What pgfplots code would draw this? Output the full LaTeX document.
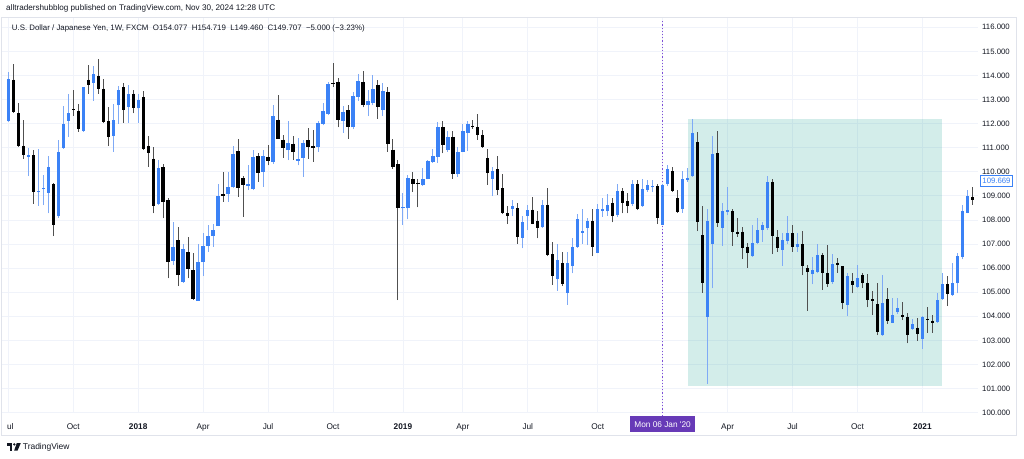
\documentclass[border=0pt]{standalone}
\usepackage{pgfplots}
\pgfplotsset{compat=1.18}
\usepackage{pgfplotstable}
\usepackage{fontspec}
\setmainfont{Liberation Sans}
\definecolor{upcol}{HTML}{3B82F6}
\definecolor{upwick}{HTML}{7FAAF6}
\definecolor{dncol}{HTML}{000000}
\definecolor{dnwick}{HTML}{505050}
\definecolor{gridc}{HTML}{F0F3FA}
\definecolor{framec}{HTML}{E0E3EB}
\definecolor{txt}{HTML}{131722}
\definecolor{purp}{HTML}{673AB7}
\definecolor{purpline}{HTML}{7E4FD8}
\definecolor{tealc}{HTML}{26A69A}

% weekly candles, i = week index from Mon 03 Jul 2017 (i=131: Mon 06 Jan 2020)
\pgfplotstableread{
i O H L C
0 112.10 114.15 112.07 113.87
4 110.62 111.00 109.82 110.68
6 109.15 110.94 108.59 109.20
7 109.28 109.86 108.61 109.33
8 109.13 110.65 108.27 110.20
10 108.16 111.31 108.10 110.83
11 111.00 112.72 110.96 111.98
12 112.11 113.25 111.45 112.46
15 111.70 113.53 111.66 113.50
17 113.69 114.38 112.94 114.04
21 111.48 112.83 110.83 112.14
22 112.76 113.55 112.00 113.41
24 112.70 113.62 112.03 113.25
26 112.63 113.25 112.03 112.97
30 108.66 110.48 108.60 110.14
33 106.30 107.90 106.12 106.89
35 105.43 107.02 105.39 106.80
38 104.65 106.99 104.65 106.25
39 106.25 107.47 105.67 106.91
40 106.91 107.78 106.68 107.34
41 107.34 107.85 106.89 107.58
42 107.74 109.51 107.74 108.99
44 109.07 110.00 108.75 109.35
45 109.35 111.06 109.31 110.72
48 109.40 110.27 109.24 109.51
49 109.28 110.90 109.24 110.62
51 110.00 110.90 109.38 110.65
53 110.41 112.76 110.34 112.30
56 110.90 112.11 110.48 111.20
58 110.45 111.42 110.27 110.52
59 110.58 111.34 109.79 111.21
62 111.03 112.11 110.83 112.03
63 112.00 112.86 111.93 112.53
64 112.39 113.73 112.35 113.66
67 112.11 112.72 111.62 112.49
69 111.84 113.32 111.77 113.15
70 113.11 114.05 112.94 113.76
72 112.76 113.39 112.31 112.93
73 112.87 114.01 112.76 113.43
75 112.56 113.69 112.31 113.36
79 108.48 109.10 107.80 108.55
80 108.48 109.86 108.02 109.76
83 109.45 110.14 109.40 109.71
84 109.72 110.48 109.68 110.44
85 110.41 110.95 110.37 110.65
86 110.62 112.07 110.37 111.86
88 110.92 111.70 110.83 111.45
90 109.90 111.03 109.79 110.83
91 110.83 111.97 110.83 111.70
92 111.62 112.11 110.87 112.00
97 109.72 110.20 108.99 110.04
101 108.46 108.82 108.16 108.57
103 107.27 108.16 106.82 107.92
104 108.17 108.61 107.58 108.43
107 107.69 108.82 107.65 108.64
110 105.53 106.98 105.06 106.33
112 104.98 106.65 104.48 106.22
113 106.08 107.23 105.78 106.89
114 106.89 108.24 106.84 108.03
115 107.47 108.45 107.02 107.54
116 107.67 108.06 106.95 107.95
118 106.64 108.66 106.61 108.45
119 108.37 108.92 108.13 108.44
120 108.36 109.06 108.17 108.64
122 108.20 109.49 108.13 109.21
125 108.66 109.65 108.57 109.49
127 108.57 109.72 108.55 109.30
128 109.24 109.65 109.17 109.44
129 109.35 109.65 109.17 109.42
131 107.81 109.50 107.78 109.47
132 109.49 110.27 109.40 110.11
135 108.45 110.03 108.30 109.72
136 109.65 110.14 109.58 109.75
137 109.82 112.21 109.79 111.59
140 103.97 108.47 101.20 107.96
141 107.02 111.48 105.16 110.73
143 107.67 108.71 106.93 108.36
144 108.33 109.35 108.20 108.40
149 106.50 107.78 106.47 107.05
150 107.05 108.06 107.02 107.60
151 107.58 107.92 107.09 107.78
152 107.65 109.82 107.58 109.58
155 106.75 107.47 106.10 107.16
156 107.12 108.16 107.02 107.47
158 106.86 107.44 106.68 106.99
161 105.74 106.47 105.32 105.92
162 105.85 107.02 105.78 106.54
165 105.43 106.58 105.34 106.19
168 104.47 105.78 104.01 105.68
170 105.23 106.13 105.16 105.57
175 103.22 105.71 103.18 104.56
177 103.73 104.77 103.70 104.05
178 104.18 104.74 104.09 104.36
181 103.46 103.87 103.43 103.67
183 103.05 104.01 102.63 103.95
186 103.77 104.95 103.73 104.67
187 104.71 105.78 104.67 105.34
189 104.88 106.22 104.85 105.40
190 105.36 106.61 104.95 106.50
191 106.47 108.64 106.36 108.37
192 108.30 109.24 108.27 108.99
}\upT

\pgfplotstableread{
i O H L C
1 113.83 114.49 112.45 112.47
2 112.42 112.86 111.03 111.08
3 111.08 112.17 110.54 110.68
5 110.68 110.90 108.68 109.17
9 109.49 109.55 107.33 107.81
13 112.60 113.40 112.33 112.55
14 112.54 112.80 111.67 111.77
16 113.83 114.42 113.25 113.59
18 113.98 114.70 113.25 113.45
19 113.45 113.87 112.03 112.06
20 112.10 112.70 111.06 111.45
23 113.50 113.70 112.03 112.56
25 113.25 113.40 112.42 112.63
27 113.11 113.36 110.90 110.94
28 111.08 111.48 110.20 110.80
29 110.55 111.03 108.27 108.57
31 110.18 110.34 108.06 108.75
32 108.82 108.90 105.57 106.26
34 107.16 107.69 105.25 105.71
36 106.65 107.30 105.57 105.95
37 105.92 106.64 104.67 104.70
43 109.06 109.99 108.75 109.00
46 110.85 111.38 108.96 109.33
47 109.75 109.82 108.13 109.47
50 110.65 110.76 109.58 109.96
52 110.62 111.10 110.27 110.44
54 112.17 113.18 111.38 111.38
55 111.34 111.52 110.59 110.97
57 111.17 111.48 110.48 110.83
60 111.31 111.80 110.55 111.03
61 111.06 111.73 110.41 111.00
65 113.70 114.52 113.52 113.64
66 113.73 113.91 111.84 112.14
68 112.56 112.76 111.38 111.84
71 113.73 114.19 112.67 112.79
74 113.62 113.80 112.21 112.69
76 113.32 113.50 110.83 111.17
77 110.92 111.38 110.13 110.20
78 110.32 110.48 104.67 108.48
81 109.68 110.00 109.17 109.51
82 109.55 109.68 108.52 109.48
87 111.84 112.11 110.76 111.13
89 111.45 111.70 109.72 109.89
93 111.92 112.14 111.78 111.85
94 111.84 112.38 111.34 111.52
95 111.52 111.73 111.00 111.03
96 110.58 110.94 109.47 109.93
98 110.10 110.66 109.03 109.26
99 109.31 109.90 108.24 108.27
100 108.27 108.57 107.83 108.17
102 108.48 108.71 107.02 107.30
105 108.43 108.96 107.82 107.85
106 107.96 108.37 107.23 107.67
108 108.64 109.31 106.50 106.54
109 106.58 107.10 105.30 105.67
111 106.22 106.68 105.25 105.34
117 107.96 108.47 106.50 106.89
121 108.71 108.89 107.90 108.16
123 109.20 109.31 108.27 108.72
124 108.78 109.13 108.27 108.59
126 109.51 109.65 108.41 108.44
130 109.40 109.51 107.83 108.10
133 110.03 110.20 109.17 109.21
134 108.89 109.24 108.30 108.34
138 111.24 111.66 107.53 107.92
139 107.37 108.57 104.98 105.36
142 110.76 111.70 107.71 107.88
145 108.36 108.47 106.93 107.51
146 107.51 108.06 107.30 107.41
147 107.51 107.69 106.37 106.84
148 106.89 107.05 106.01 106.61
153 109.58 109.68 106.58 107.33
154 107.30 107.60 106.68 106.84
157 107.44 107.78 106.68 106.89
159 106.99 107.54 105.71 106.08
160 105.99 106.13 104.22 105.82
163 106.54 106.64 105.10 105.78
164 105.78 106.95 105.23 105.34
166 106.23 106.40 105.81 106.12
167 106.08 106.10 104.29 104.53
169 105.46 105.81 104.95 105.29
171 105.71 105.81 105.16 105.36
172 105.36 105.75 104.37 104.67
173 104.70 105.06 104.05 104.64
174 104.51 105.36 103.22 103.36
176 104.70 105.16 103.68 103.81
179 104.05 104.60 103.84 103.95
180 103.98 104.15 102.87 103.22
182 103.53 103.91 102.98 103.25
184 103.90 104.40 103.32 103.84
185 103.82 104.05 103.32 103.71
188 105.34 105.67 104.42 104.92
193 108.96 109.37 108.64 108.82
}\dnT

\begin{document}
\begin{tikzpicture}[font=\fontsize{8.15}{9.6}\selectfont]
\path[use as bounding box] (0,0) rectangle (1024bp,-459bp);
\fill[white] (0,0) rectangle (1024bp,-459bp);
\begin{axis}[
  at={(1.5bp,-412.8bp)}, anchor=south west,
  scale only axis, width=976.5bp, height=395.5bp,
  xmin=-1.361, xmax=194.13, ymin=99.99, ymax=116.415,
  clip=false,
  axis line style={draw=none},
  major tick length=0pt,
  scaled y ticks=false,
  xtick={0,13,26,39,52,65,79,91,104,118,131,144,157,170,183},
  xticklabels={Jul,Oct,\textbf{2018},Apr,Jul,Oct,\textbf{2019},Apr,Jul,Oct,{},Apr,Jul,Oct,\textbf{2021}},
  ytick={100,101,...,116},
  yticklabel pos=right,
  grid=major, grid style={gridc, line width=0.8bp},
  /pgf/number format/assume math mode=true,
  /pgf/number format/fixed,
  /pgf/number format/fixed zerofill,
  /pgf/number format/precision=3,
  /pgf/number format/1000 sep={},
  xticklabel style={anchor=base, inner sep=0pt, yshift=-16.5bp, text=txt, font=\fontsize{8.3}{9.6}\selectfont},
  yticklabel style={anchor=west, inner sep=0pt, xshift=4bp, text=txt, font=\fontsize{7.8}{9}\selectfont},
]
% highlighted rectangle
\addplot[draw=none, fill=tealc, fill opacity=0.2] coordinates {(136.1,101.1) (136.1,112.21) (186.9,112.21) (186.9,101.1)};
% crosshair line at Mon 06 Jan 2020
\addplot[purpline, line width=1.2bp, dash pattern=on 1.2bp off 2bp] coordinates {(131,99.86) (131,116.3)};
% wicks
\addplot[upwick, line width=0.9bp, -, quiver={u=0, v=\thisrow{H}-\thisrow{L}}] table[x=i, y=L] {\upT};
\addplot[dnwick, line width=0.9bp, -, quiver={u=0, v=\thisrow{H}-\thisrow{L}}] table[x=i, y=L] {\dnT};
% bodies
\addplot[upcol, line width=3.3bp, -, quiver={u=0, v=\thisrow{C}-\thisrow{O}}] table[x=i, y=O] {\upT};
\addplot[dncol, line width=3.3bp, -, quiver={u=0, v=\thisrow{C}-\thisrow{O}}] table[x=i, y=O] {\dnT};
\end{axis}
% clip of the first time label and frame
\fill[white] (0,-414bp) rectangle (6.8bp,-434bp);
\draw[framec, line width=0.8bp] (1.5bp,-17.3bp) rectangle (1016.7bp,-435bp);
% crosshair time label
\node[fill=purp, text=white, inner sep=0pt, minimum width=65bp, minimum height=16.3bp, font=\fontsize{8.3}{9.6}\selectfont] at (662.6bp,-424.2bp) {Mon 06 Jan \textquotesingle 20};
% price label
\node[draw=upcol, fill=white, text=upcol, line width=0.8bp, inner sep=0pt, minimum width=32.5bp, minimum height=11bp, font=\fontsize{7.8}{9}\selectfont] at (996.5bp,-180.4bp) {109.669};
% header
\node[anchor=base west, inner sep=0pt, text=txt] at (6bp,-10.9bp) {alltradershubblog published on TradingView.com, Nov 30, 2024 12:28 UTC};
\node[anchor=base west, inner sep=0pt, text=txt, font=\fontsize{7.9}{9.6}\selectfont] at (11.7bp,-30.6bp) {U.S. Dollar / Japanese Yen, 1W, FXCM\ \ O154.077\ \ H154.719\ \ L149.460\ \ C149.707\ \ −5.000 (−3.23\%)};
% TradingView logo
\fill[txt] (6.7bp,-443bp) rectangle (12.2bp,-445.6bp);
\fill[txt] (9.6bp,-443bp) rectangle (12.2bp,-450.5bp);
\fill[txt] (14.3bp,-444.4bp) circle (1.3bp);
\fill[txt] (16.8bp,-443bp) -- (20.8bp,-443bp) -- (17.6bp,-450.5bp) -- (14.2bp,-450.5bp) -- cycle;
\node[anchor=base west, inner sep=0pt, text=txt, font=\fontsize{8.5}{10}\selectfont] at (22.7bp,-449.7bp) {TradingView};
\end{tikzpicture}
\end{document}
